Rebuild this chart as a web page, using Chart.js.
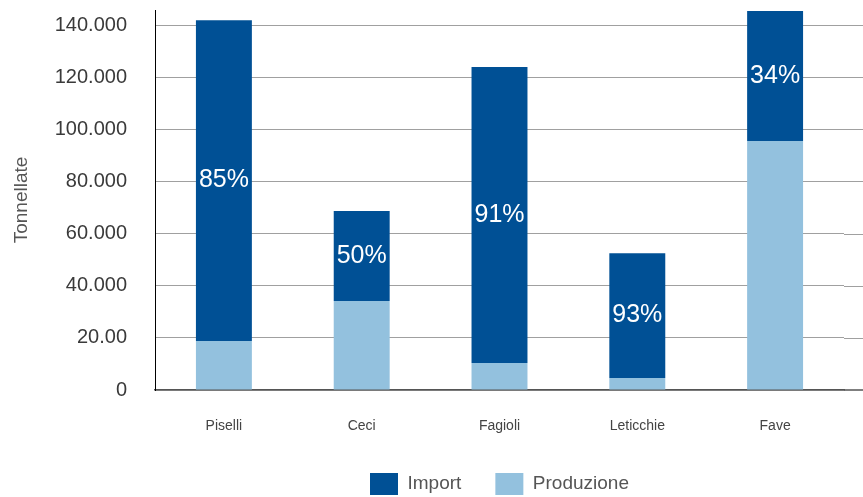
<!DOCTYPE html>
<html>
<head>
<meta charset="utf-8">
<script src="https://cdn.jsdelivr.net/npm/chart.js@4"></script>
<style>
  body { margin: 0; background: #fff; }
  #wrap { width: 863px; height: 497px; }
</style>
</head>
<body>
<div id="wrap"><canvas id="legumi" width="863" height="497"></canvas></div>
<script>
  // dati (tonnellate)
  const categories = ['Piselli', 'Ceci', 'Fagioli', 'Leticchie', 'Fave'];
  const produzione = [18800, 34100, 10400, 4600, 95500];
  const importValues = [123100, 34600, 113500, 47900, 49900];
  const importShare = ['85%', '50%', '91%', '93%', '34%'];
  const yTicks = [0, 20000, 40000, 60000, 80000, 100000, 120000, 140000];
  const yTickLabels = ['0', '20.00', '40.000', '60.000', '80.000', '100.000', '120.000', '140.000'];

  const darkBlue = '#005095';
  const lightBlue = '#93c1de';
  const font = 'Liberation Sans, Arial, sans-serif';

  // allunga griglia e asse x fino al bordo destro
  const extendGrid = {
    id: 'extendGrid',
    beforeDatasetsDraw(chart) {
      const { ctx, chartArea, scales } = chart;
      ctx.save();
      ctx.strokeStyle = '#a0a0a0';
      ctx.lineWidth = 1;
      yTicks.forEach(v => {
        if (v === 0) return;
        const y = Math.round(scales.y.getPixelForValue(v)) + 0.5;
        ctx.beginPath();
        ctx.moveTo(chartArea.right, y);
        ctx.lineTo(chart.width, y);
        ctx.stroke();
      });
      ctx.strokeStyle = '#555';
      ctx.lineWidth = 1.5;
      const y0 = scales.y.getPixelForValue(0);
      ctx.beginPath();
      ctx.moveTo(chartArea.right, y0);
      ctx.lineTo(chart.width, y0);
      ctx.stroke();
      ctx.restore();
    }
  };

  const shareLabels = {
    id: 'shareLabels',
    afterDatasetsDraw(chart) {
      const { ctx } = chart;
      const meta = chart.getDatasetMeta(1);
      ctx.save();
      ctx.fillStyle = '#fff';
      ctx.font = '25px "Liberation Sans", Arial, sans-serif';
      ctx.textAlign = 'center';
      ctx.textBaseline = 'middle';
      meta.data.forEach((bar, i) => {
        ctx.fillText(importShare[i], bar.x, (bar.y + bar.base) / 2);
      });
      ctx.restore();
    }
  };

  const ctx = document.getElementById('legumi');

  new Chart(ctx, {
    type: 'bar',
    data: {
      labels: categories,
      datasets: [
        {
          label: 'Produzione',
          data: produzione,
          backgroundColor: lightBlue
        },
        {
          label: 'Import',
          data: importValues,
          backgroundColor: darkBlue
        }
      ]
    },
    options: {
      responsive: false,
      animation: false,
      categoryPercentage: 1,
      barPercentage: 0.406,
      layout: { padding: { left: 0, right: 19, top: 0, bottom: -8 } },
      scales: {
        x: {
          stacked: true,
          grid: { display: false },
          border: { display: true, color: '#555', width: 1.5 },
          ticks: { padding: 20, color: '#444', font: { family: font, size: 14 } },
          afterFit(scale) { scale.height = 49; }
        },
        y: {
          stacked: true,
          min: 0,
          max: 145800,
          afterBuildTicks(scale) {
            scale.ticks = yTicks.map(v => ({ value: v }));
          },
          grid: { color: '#a0a0a0', lineWidth: 1, drawTicks: true, tickLength: 28, tickColor: 'rgba(0,0,0,0)' },
          border: { display: true, color: '#000', width: 1 },
          ticks: {
            padding: 0,
            color: '#3a3a3a',
            font: { family: font, size: 20, lineHeight: 1 },
            callback: (v) => {
              const i = yTicks.indexOf(v);
              return i >= 0 ? yTickLabels[i] : '';
            }
          },
          title: {
            display: true,
            text: 'Tonnellate',
            color: '#555',
            font: { family: font, size: 19 },
            padding: { top: 10, bottom: 0 }
          },
          afterFit(scale) { scale.width = 155; }
        }
      },
      plugins: {
        legend: {
          position: 'bottom',
          fullSize: false,
          reverse: true,
          labels: {
            boxWidth: 28,
            boxHeight: 22,
            padding: 34,
            color: '#555',
            font: { family: font, size: 19 }
          }
        },
        tooltip: { enabled: false }
      }
    },
    plugins: [extendGrid, shareLabels]
  });
</script>
</body>
</html>
